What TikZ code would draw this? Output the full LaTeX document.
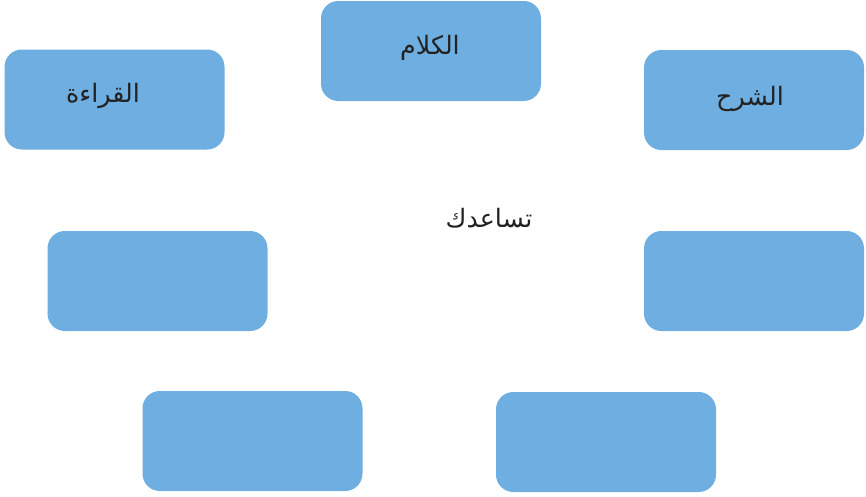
\documentclass[tikz,border=0pt]{standalone}
\usepackage{fontspec}
\newfontfamily\arabicfont[Script=Arabic]{DejaVu Sans}
\TeXXeTstate=1
\definecolor{boxblue}{RGB}{111,174,224}
\definecolor{textdark}{RGB}{34,34,34}

\begin{document}
\begin{tikzpicture}[x=0.75pt, y=-0.75pt,
    box/.style={fill=boxblue, rounded corners=13pt, minimum width=165pt, minimum height=75pt, inner sep=0pt},
    lbl/.style={text=textdark, font=\arabicfont\fontsize{19}{22}\selectfont}]
    \useasboundingbox (0,0) rectangle (866,496);

    % Obere Reihe
    \node[box] (reading) at (114.5,99.5) {};
    \node[box] (speaking) at (431,51) {};
    \node[box] (explain) at (754,100) {};
    \node[lbl] (readingtxt) at (103,96) {\beginR القراءة\endR};
    \node[lbl] (speakingtxt) at (430,48) {\beginR الكلام\endR};
    \node[lbl] (explaintxt) at (750,99) {\beginR الشرح\endR};

    % Mitte
    \node[lbl] (helps) at (489,218) {\beginR تساعدك\endR};
    \node[box] (midleft) at (157.5,281) {};
    \node[box] (midright) at (754,281) {};

    % Untere Reihe
    \node[box] (botleft) at (252.5,441) {};
    \node[box] (botright) at (606,442) {};
\end{tikzpicture}
\end{document}
